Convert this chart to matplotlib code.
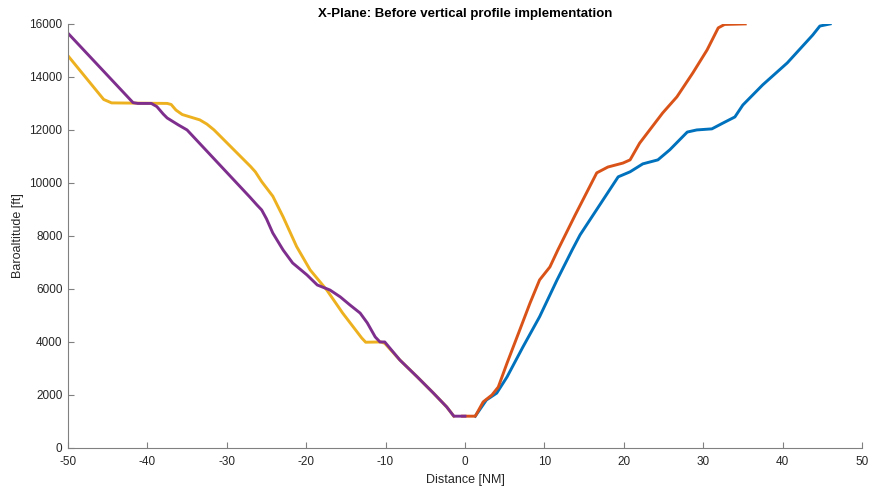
import numpy as np
import matplotlib.pyplot as plt
from matplotlib import rcParams

rcParams['font.family'] = 'sans-serif'
rcParams['font.sans-serif'] = ['Liberation Sans', 'DejaVu Sans']
rcParams['axes.unicode_minus'] = False

# descent legs (negative distance = before threshold)
desc1_x = [-50, -45.5, -44.5, -37.5, -37.0, -36.4, -35.6, -34.5, -33.4, -32.5, -31.6,
           -27.0, -26.4, -25.6, -24.2, -22.9, -21.2, -19.5, -17.4, -15.4, -13.0, -12.5,
           -10.6, -10.1, -8.2, -6.0, -4.0, -2.3, -1.4]
desc1_y = [14800, 13150, 13020, 13000, 12960, 12750, 12580, 12480, 12380, 12220, 12000,
           10620, 10420, 10050, 9500, 8720, 7600, 6720, 5960, 5090, 4150, 3990,
           4000, 3950, 3320, 2680, 2080, 1550, 1200]

desc2_x = [-50, -41.8, -41.2, -39.5, -38.8, -38.0, -37.5, -36.1, -35.0, -27.1, -26.2,
           -25.6, -25.0, -24.2, -22.9, -21.7, -19.9, -18.6, -17.0, -15.7, -14.5, -13.2,
           -12.3, -11.3, -10.7, -10.1, -8.2, -6.0, -4.0, -2.3, -1.4, 0.0]
desc2_y = [15650, 13030, 13000, 13000, 12880, 12600, 12450, 12190, 12000, 9470, 9170,
           8980, 8650, 8110, 7470, 6980, 6530, 6150, 5960, 5700, 5400, 5090,
           4720, 4190, 4000, 4000, 3320, 2680, 2080, 1550, 1200, 1200]

# climb legs (positive distance = after departure)
clb1_x = [1.3, 2.7, 4.0, 5.3, 7.3, 9.4, 11.6, 13.5, 14.5, 19.3, 20.8, 22.4, 24.3, 25.8,
          28.0, 29.2, 31.1, 32.5, 34.0, 35.0, 37.5, 40.6, 43.8, 44.7, 46.0]
clb1_y = [1200, 1810, 2070, 2680, 3810, 4950, 6340, 7470, 8040, 10230, 10420, 10720, 10870, 11250,
          11920, 12000, 12040, 12260, 12490, 12940, 13700, 14530, 15580, 15920, 16000]

clb2_x = [-0.3, 1.3, 2.3, 3.4, 4.2, 5.3, 6.9, 8.2, 9.4, 10.7, 11.7, 13.9, 16.6, 18.0,
          19.9, 20.8, 22.0, 24.9, 26.7, 28.7, 30.5, 31.9, 32.7, 35.3]
clb2_y = [1200, 1200, 1740, 2000, 2300, 3200, 4450, 5470, 6340, 6830, 7470, 8800, 10380, 10600,
          10750, 10870, 11500, 12640, 13250, 14150, 15020, 15850, 15980, 16000]

fig = plt.figure(figsize=(8.71, 4.88), dpi=100)
ax = fig.add_axes([0.078, 0.082, 0.9116, 0.869])

ax.plot(clb1_x, clb1_y, color='#0072BD', lw=2.1, solid_joinstyle='round')
ax.plot(clb2_x, clb2_y, color='#D95319', lw=2.1, solid_joinstyle='round')
ax.plot(desc1_x, desc1_y, color='#EDB120', lw=2.1, solid_joinstyle='round')
ax.plot(desc2_x, desc2_y, color='#7E2F8E', lw=2.1, solid_joinstyle='round')

ax.set_xlim(-50, 50)
ax.set_ylim(0, 16000)
ax.set_xticks(np.arange(-50, 51, 10))
ax.set_yticks(np.arange(0, 16001, 2000))

for s in ['top', 'right']:
    ax.spines[s].set_visible(False)
for s in ['left', 'bottom']:
    ax.spines[s].set_color('#808080')
    ax.spines[s].set_linewidth(0.8)
ax.tick_params(direction='in', length=4, width=0.8, color='#808080',
               labelsize=8.5, labelcolor='#262626')
ax.tick_params(axis='x', pad=6)
ax.tick_params(axis='y', pad=4)

ax.set_xlabel('Distance [NM]', fontsize=9, color='#262626', labelpad=4)
ax.set_ylabel('Baroaltitude [ft]', fontsize=9, color='#262626', labelpad=4)
ax.set_title('X-Plane: Before vertical profile implementation', fontsize=9.5,
             fontweight='bold', color='black', pad=5)

plt.savefig('out.png', dpi=100)
